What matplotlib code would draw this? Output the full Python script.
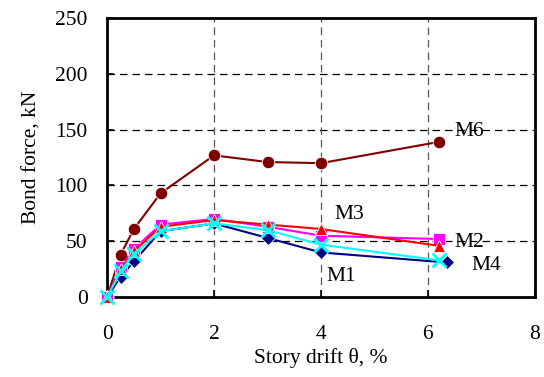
import matplotlib
matplotlib.use("Agg")
import matplotlib.pyplot as plt

plt.rcParams['font.family'] = ['Liberation Serif', 'DejaVu Serif']

# Data (story drift %, bond force kN)
x_M6 = [0, 0.25, 0.5, 1.0, 2.0, 3.0, 4.0, 6.2]
y_M6 = [0, 38, 61, 93, 127, 121, 120, 139]

x_M1 = [0, 0.25, 0.5, 1.0, 2.0, 3.0, 4.0, 6.35]
y_M1 = [0, 18, 32, 59, 66, 53, 40, 31]

x_M2 = [0, 0.25, 0.5, 1.0, 2.0, 3.0, 4.0, 6.2]
y_M2 = [0, 27, 43, 65, 70, 63, 55, 52]

x_M3 = [0, 0.25, 0.5, 1.0, 2.0, 3.0, 4.0, 6.2]
y_M3 = [0, 25, 41, 63, 69, 65, 61, 46]

x_M4 = [0, 0.25, 0.5, 1.0, 2.0, 3.0, 4.0, 6.2]
y_M4 = [0, 23, 39, 59, 66, 60, 47, 33]

x_ticks = [0, 2, 4, 6, 8]
y_ticks = [0, 50, 100, 150, 200, 250]

fig = plt.figure(figsize=(5.44, 3.77), dpi=100)
ax = fig.add_axes([0.197, 0.212, 0.786, 0.740])

# grid
for yv in [50, 100, 150, 200]:
    ax.axhline(yv, color='black', lw=0.9, ls=(0, (6, 4)), zorder=1)
for xv in [2, 4, 6]:
    ax.axvline(xv, color='#555555', lw=0.9, ls=(0, (6, 4)), zorder=1)

common = dict(lw=1.5, clip_on=False, zorder=3)
ax.plot(x_M6, y_M6, color='#800000', marker='o', ms=9, mec='white', mew=0.6, **common)
ax.plot(x_M1, y_M1, color='#000080', marker='D', ms=7, mec='white', mew=0.6, **common)
ax.plot(x_M2, y_M2, color='#FF00FF', marker='s', ms=8, mec='white', mew=0.6, **common)
ax.plot(x_M3, y_M3, color='#FF0000', marker='^', ms=9, mec='white', mew=0.6, **common)
ax.plot(x_M4, y_M4, color='#00FFFF', marker='x', ms=10, mew=2.0, **common)

fs = 15.5
ax.text(6.5, 148, 'M6', fontsize=fs, va='center', ha='left')
ax.text(4.25, 74, 'M3', fontsize=fs, va='center', ha='left')
ax.text(6.5, 49, 'M2', fontsize=fs, va='center', ha='left')
ax.text(6.82, 28, 'M4', fontsize=fs, va='center', ha='left')
ax.text(4.1, 18, 'M1', fontsize=fs, va='center', ha='left')

ax.set_xlim(0, 8)
ax.set_ylim(0, 250)
ax.set_xticks(x_ticks)
ax.set_yticks(y_ticks)
ax.tick_params(direction='in', labelsize=fs, length=5, width=1.2)
ax.tick_params(axis='y', pad=14)
ax.tick_params(axis='x', pad=20)
for s in ax.spines.values():
    s.set_linewidth(2.0)

ax.set_xlabel('Story drift θ, %', fontsize=fs, labelpad=3)
ax.set_ylabel('Bond force, kN', fontsize=fs, labelpad=10)

fig.savefig('out.png', dpi=100)
